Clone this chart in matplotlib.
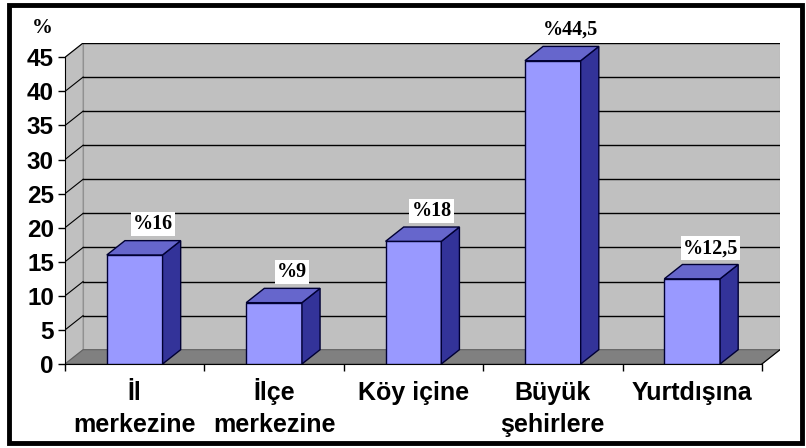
import matplotlib
matplotlib.use('Agg')
import matplotlib.pyplot as plt
import matplotlib.transforms as mtransforms
from matplotlib.patches import Polygon, Rectangle

categories = ['İl\nmerkezine', 'İlçe\nmerkezine', 'Köy içine', 'Büyük\nşehirlere', 'Yurtdışına']
values = [16, 9, 18, 44.5, 12.5]
value_labels = ['%16', '%9', '%18', '%44,5', '%12,5']
yticks = [0, 5, 10, 15, 20, 25, 30, 35, 40, 45]

# 3d look
dx, dy = 0.13, 2.1
bw = 0.4
ymax = 45

fig = plt.figure(figsize=(8.06, 4.48), dpi=100)
fig.patch.set_facecolor('white')
ax = fig.add_axes([65/806, (448-364)/448, (780-65)/806, (364-43)/448])
ax.set_xlim(-0.5, 4.5 + dx)
ax.set_ylim(0, ymax + dy)
ax.patch.set_alpha(0)

# back wall, side wall, floor
ax.add_patch(Polygon([(-0.5+dx, dy), (4.5+dx, dy), (4.5+dx, ymax+dy), (-0.5+dx, ymax+dy)],
                     closed=True, fc='#c0c0c0', ec='#909090', lw=0.8, zorder=1))
ax.add_patch(Polygon([(-0.5, 0), (-0.5+dx, dy), (-0.5+dx, ymax+dy), (-0.5, ymax)],
                     closed=True, fc='#c0c0c0', ec='#909090', lw=0.8, zorder=1))
ax.add_patch(Polygon([(-0.5, 0), (4.5, 0), (4.5+dx, dy), (-0.5+dx, dy)],
                     closed=True, fc='#808080', ec='#606060', lw=0.8, zorder=1))
for t in yticks[1:]:
    ax.plot([-0.5+dx, 4.5+dx], [t+dy, t+dy], color='black', lw=1, zorder=2)
    ax.plot([-0.5, -0.5+dx], [t, t+dy], color='black', lw=0.8, zorder=2)
ax.plot([4.5, 4.5+dx], [0, dy], color='black', lw=0.8, zorder=2)

for i, v in enumerate(values):
    x0, x1 = i - bw/2, i + bw/2
    ax.add_patch(Polygon([(x0, 0), (x1, 0), (x1, v), (x0, v)], closed=True,
                         fc='#9999ff', ec='#000033', lw=1, zorder=5))
    ax.add_patch(Polygon([(x1, 0), (x1+dx, dy), (x1+dx, v+dy), (x1, v)], closed=True,
                         fc='#333399', ec='#000033', lw=1, zorder=5))
    ax.add_patch(Polygon([(x0, v), (x1, v), (x1+dx, v+dy), (x0+dx, v+dy)], closed=True,
                         fc='#6666cc', ec='#000033', lw=1, zorder=5))
    ax.text(i + dx, v + dy + 2.4, value_labels[i], ha='center', va='center',
            fontsize=14.5, fontweight='bold', family='Liberation Serif', zorder=6,
            bbox=dict(fc='white', ec='none', pad=1.5), clip_on=False)

for s in ['top', 'right']:
    ax.spines[s].set_visible(False)
ax.spines['left'].set_bounds(0, ymax)
ax.spines['bottom'].set_bounds(-0.5, 4.5)
ax.spines['left'].set_zorder(3)
ax.spines['bottom'].set_zorder(3)

ax.set_yticks(yticks)
ax.set_yticklabels([str(t) for t in yticks], fontsize=17.5, fontweight='bold',
                   family='Liberation Sans')
ax.tick_params(axis='y', length=5, width=1, pad=3)
ax.set_xticks([-0.5, 0.5, 1.5, 2.5, 3.5, 4.5])
ax.set_xticklabels([])
ax.tick_params(axis='x', which='major', length=5, width=1)

# category labels, one text per line so first lines share a baseline
trans = mtransforms.blended_transform_factory(ax.transData, ax.transAxes)
for i, c in enumerate(categories):
    for k, line in enumerate(c.split('\n')):
        ax.text(i, (364 - 400 - 32 * k) / 321, line, transform=trans, ha='center',
                va='baseline', fontsize=18, fontweight='bold',
                family='Liberation Sans', clip_on=False)

fig.text(42/806, 1 - 28/448, '%', ha='center', va='center', fontsize=15,
         fontweight='bold', family='Liberation Serif')

fig.patches.append(Rectangle((9/806, 5/448), 793/806, 438/448, transform=fig.transFigure,
                             fill=False, ec='black', lw=3.5))

fig.savefig('out.png', dpi=100)
